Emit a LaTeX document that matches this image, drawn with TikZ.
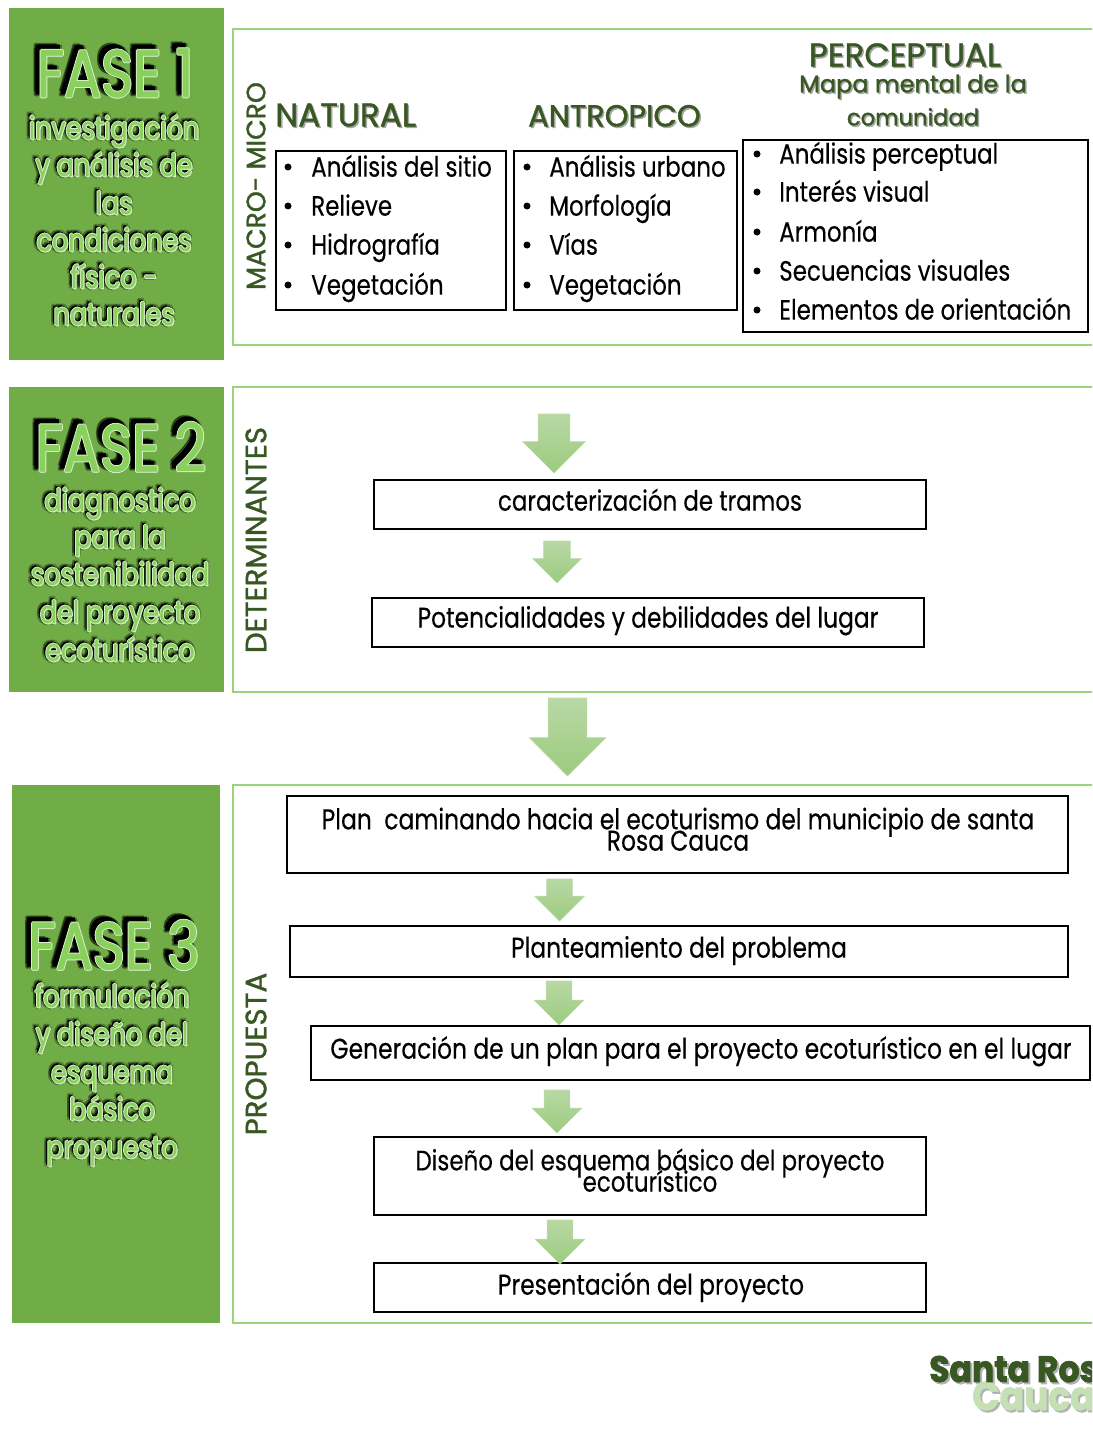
\documentclass[tikz,border=0pt]{standalone}
\usepackage{fontspec}
\usetikzlibrary{shapes.arrows}
\setmainfont[FakeStretch=0.82,FakeBold=0.3]{Poppins}
\newfontfamily\titlefont[FakeStretch=0.82,FakeBold=1.2]{Poppins}
\newfontfamily\headfont[FakeBold=1.3]{Poppins}
\newfontfamily\logofont[FakeStretch=0.9,FakeBold=2]{Poppins Bold}
\definecolor{fasegreen}{HTML}{70AD47}
\definecolor{marcogreen}{HTML}{9AD37C}
\definecolor{titlegreen}{HTML}{8AD05C}
\definecolor{palegreen}{HTML}{D8EFC8}
\definecolor{darkgreen}{HTML}{385723}
\definecolor{logogreen}{HTML}{C5E0B4}
\definecolor{arrowtop}{HTML}{B9D8A5}
\definecolor{arrowbot}{HTML}{9BCB7E}
\def\px{0.75pt}
\newcommand{\fasetitle}[4]{
	\foreach \dx/\dy [count=\i] in {-7/-6,-6/-7,-3/-6,-7/-2,-1/-5,-6/-1}
		\node [black, opacity=0.3, font=\titlefont\fontsize{50}{60}\selectfont] (#1-b\i) at (#2+\dx,#3+\dy) {#4};
	\foreach \dx/\dy [count=\i] in {-5/-5,-4/-4,-5/-3,-3/-5}
		\node [black, font=\titlefont\fontsize{50}{60}\selectfont] (#1-s\i) at (#2+\dx,#3+\dy) {#4};
	\foreach \dx/\dy [count=\i] in {-1/0,1/0,0/-1,0/1}
		\node [palegreen, font=\titlefont\fontsize{50}{60}\selectfont] (#1-w\i) at (#2+\dx,#3+\dy) {#4};
	\node [titlegreen, font=\titlefont\fontsize{50}{60}\selectfont] (#1) at (#2,#3) {#4};
}
\newcommand{\faseline}[4]{
	\foreach \dx/\dy [count=\i] in {-4/-3,-3/-4,-4/0,0/-4,2/-1,-1/2}
		\node [black, opacity=0.25, text height=20pt, text depth=5pt, font=\fontsize{23.3}{28}\selectfont] (#1-b\i) at (#2+\dx,#3+\dy) {#4};
	\foreach \dx/\dy [count=\i] in {-2/-2,-2/-1,-1/-2}
		\node [black, text height=20pt, text depth=5pt, font=\fontsize{23.3}{28}\selectfont] (#1-s\i) at (#2+\dx,#3+\dy) {#4};
	\foreach \dx/\dy [count=\i] in {-1/0,1/0,0/-1,0/1,1/1}
		\node [palegreen, text height=20pt, text depth=5pt, font=\fontsize{23.3}{28}\selectfont] (#1-w\i) at (#2+\dx,#3+\dy) {#4};
	\node [titlegreen, text height=20pt, text depth=5pt, font=\fontsize{23.3}{28}\selectfont] (#1) at (#2,#3) {#4};
}
\newcommand{\cabezatext}[5]{
	\node [cabeza, black!35, #4] (#1-s) at (#2+1.5,#3+1.5) {#5};
	\node [cabeza, #4] (#1) at (#2,#3) {#5};
}
\begin{document}
\begin{tikzpicture}[x=\px,y=-\px]
		\tikzstyle{fase} = [fill=fasegreen, draw=none]
		\tikzstyle{marco} = [draw=marcogreen, line width=1.5pt]
		\tikzstyle{caja} = [draw=black, line width=1pt]
		\tikzstyle{texto} = [font=\fontsize{21.4}{24}\selectfont, align=center, inner sep=0, text height=20pt, text depth=4pt]
		\tikzstyle{item} = [font=\fontsize{21}{24}\selectfont, anchor=west, inner sep=0, text height=20pt, text depth=4pt]
		\tikzstyle{punto} = [circle, fill=black, inner sep=0, minimum size=7*\px]
		\tikzstyle{cabeza} = [darkgreen, font=\headfont\fontsize{24.5}{28}\selectfont, inner sep=0, text height=20pt, text depth=3pt]
		\tikzstyle{lateral} = [darkgreen, font=\headfont\fontsize{20}{24}\selectfont, rotate=90, inner sep=0]
		\tikzstyle{flecha} = [single arrow, shape border rotate=270, anchor=tip, top color=arrowtop, bottom color=arrowbot, draw=arrowbot!70!white, line width=0.4pt, outer sep=0]
		\useasboundingbox (0,0) rectangle (1092,1452);
		\clip (0,0) rectangle (1092,1452);

		\fill [fase] (9,8) rectangle (224,360);
		\fill [fase] (9,387) rectangle (224,692);
		\fill [fase] (12,785) rectangle (220,1323);
		\draw [marco] (233,29) rectangle (1100,345);
		\draw [marco] (233,387) rectangle (1100,692);
		\draw [marco] (233,785) rectangle (1100,1323);

		\fasetitle{fase1}{115}{73}{FASE 1}
		\foreach \y/\t [count=\n] in {129/investigación,166/y análisis de,204/las,241/condiciones,278/físico -,315/naturales}
		{
			\faseline{uno\n}{114}{\y}{\t}
		}
		\fasetitle{fase2}{121}{447}{FASE 2}
		\foreach \y/\t [count=\n] in {501/diagnostico,538/para la,575/sostenibilidad,613/del proyecto,651/ecoturístico}
		{
			\faseline{dos\n}{120}{\y}{\t}
		}
		\fasetitle{fase3}{114}{945}{FASE 3}
		\foreach \y/\t [count=\n] in {997/formulación,1035/y diseño del,1073/esquema,1110/básico,1148/propuesto}
		{
			\faseline{tres\n}{112}{\y}{\t}
		}

		\node [lateral] (macro) at (256,186) {MACRO- MICRO};
		\node [lateral, font=\headfont\fontsize{22}{24}\selectfont] (determ) at (256,540) {DETERMINANTES};
		\node [lateral, font=\headfont\fontsize{22}{24}\selectfont] (propuesta) at (256,1054) {PROPUESTA};

		\cabezatext{natural}{275}{115}{anchor=west}{NATURAL}
		\cabezatext{antropico}{528}{115}{anchor=west, font=\headfont\fontsize{22.7}{28}\selectfont}{ANTROPICO}
		\cabezatext{percep}{905}{55}{}{PERCEPTUAL}
		\cabezatext{mapa1}{913}{81}{font=\headfont\fontsize{18}{24}\selectfont}{Mapa mental de la}
		\cabezatext{mapa2}{913}{114}{font=\headfont\fontsize{17}{24}\selectfont}{comunidad}

		\draw [caja] (276,151) rectangle (506,310);
		\draw [caja] (514,151) rectangle (737,310);
		\draw [caja] (743,140) rectangle (1088,332);
		\foreach \y/\t [count=\n] in {166/Análisis del sitio,205/Relieve,244/Hidrografía,284/Vegetación}
		{
			\node [punto] (natb\n) at (288,\y+1) {};
			\node [item] (nat\n) at (311,\y) {\t};
		}
		\foreach \y/\t [count=\n] in {166/Análisis urbano,205/Morfología,244/Vías,284/Vegetación}
		{
			\node [punto] (antb\n) at (527,\y+1) {};
			\node [item] (ant\n) at (549,\y) {\t};
		}
		\foreach \y/\t [count=\n] in {153/Análisis perceptual,191/Interés visual,231/Armonía,270/Secuencias visuales,309/Elementos de orientación}
		{
			\node [punto] (perb\n) at (757,\y+1) {};
			\node [item] (per\n) at (779,\y) {\t};
		}

		\node [flecha, minimum height=59*\px, inner sep=15.5*\px, single arrow head extend=15.5*\px] (fl1) at (554,473) {};
		\draw [caja] (374,480) rectangle (926,529);
		\node [texto, font=\fontsize{21}{24}\selectfont] (tramos) at (650,500) {caracterización de tramos};
		\node [flecha, minimum height=42*\px, inner sep=13*\px, single arrow head extend=11*\px] (fl2) at (557,583) {};
		\draw [caja] (372,598) rectangle (924,647);
		\node [texto] (poten) at (648,617) {Potencialidades y debilidades del lugar};

		\node [flecha, minimum height=78*\px, inner sep=19*\px, single arrow head extend=19*\px] (fl3) at (567.5,776) {};

		\draw [caja] (287,796) rectangle (1068,873);
		\node [texto] (plan) at (678,840) {Plan\ \ caminando hacia el ecoturismo del municipio de santa\\[-8pt]Rosa Cauca};
		\node [flecha, minimum height=42*\px, inner sep=12.5*\px, single arrow head extend=12*\px] (fl4) at (559.5,921) {};
		\draw [caja] (290,926) rectangle (1068,977);
		\node [texto] (problema) at (679,947) {Planteamiento del problema};
		\node [flecha, minimum height=44*\px, inner sep=12.5*\px, single arrow head extend=12*\px] (fl5) at (559,1025) {};
		\draw [caja] (311,1026) rectangle (1090,1080);
		\node [texto] (generacion) at (701,1048) {Generación de un plan para el proyecto ecoturístico en el lugar};
		\node [flecha, minimum height=43*\px, inner sep=12.5*\px, single arrow head extend=12*\px] (fl6) at (557,1133) {};
		\draw [caja] (374,1137) rectangle (926,1215);
		\node [texto, font=\fontsize{21}{24}\selectfont] (diseno) at (650,1181) {Diseño del esquema básico del proyecto\\[-8pt]ecoturístico};
		\draw [caja] (374,1263) rectangle (926,1312);
		\node [flecha, minimum height=44*\px, inner sep=12.5*\px, single arrow head extend=12*\px] (fl7) at (560,1264) {};
		\node [texto] (present) at (651,1284) {Presentación del proyecto};

		\node [gray!60, font=\logofont\fontsize{27.5}{30}\selectfont, anchor=west, inner sep=0] (logoa-s) at (931,1371) {Santa Rosa};
		\node [gray!60, font=\logofont\fontsize{30}{34}\selectfont, anchor=west, inner sep=0] (logob-s) at (974,1398) {Cauca};
		\node [logogreen, font=\logofont\fontsize{30}{34}\selectfont, anchor=west, inner sep=0] (logob) at (972,1396) {Cauca};
		\node [darkgreen, font=\logofont\fontsize{27.5}{30}\selectfont, anchor=west, inner sep=0] (logoa) at (929,1369) {Santa Rosa};
		\end{tikzpicture}
\end{document}
